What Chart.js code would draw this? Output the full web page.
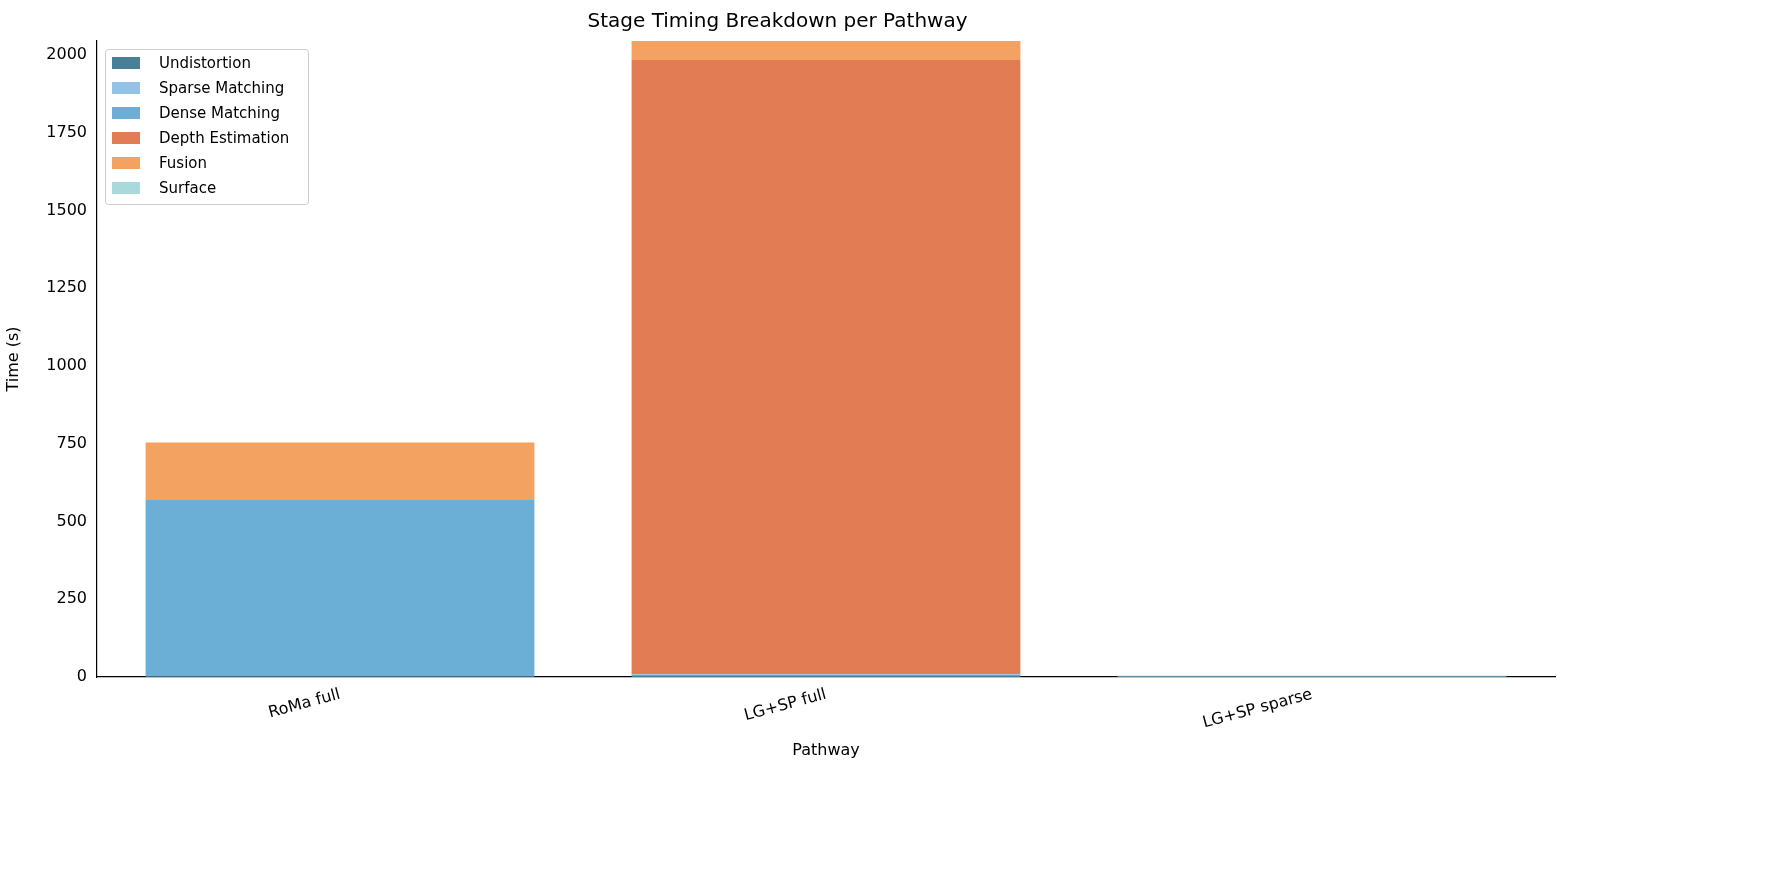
<!DOCTYPE html>
<html><head><meta charset="utf-8">
<script src="https://cdn.jsdelivr.net/npm/chart.js@4/dist/chart.umd.min.js"></script>
<style>html,body{margin:0;background:#fff}</style>
</head><body><canvas id="c" width="1784" height="882"></canvas>
<script>
const categories = ["RoMa full", "LG+SP full", "LG+SP sparse"];
const stages = ["Undistortion", "Sparse Matching", "Dense Matching", "Depth Estimation", "Fusion", "Surface"];
const undistortion = [2, 6, 1];
const sparseMatching = [0, 3, 3];
const denseMatching = [570, 0, 0];
const depthEstimation = [0, 1975, 0];
const fusion = [182, 200, 0];
const surface = [0, 0, 0];
const yTicks = [0, 250, 500, 750, 1000, 1250, 1500, 1750, 2000];
const colors = ["#4a7f99", "#93c4e8", "#6baed6", "#e17c55", "#f4a261", "#a8dadc"];
const series = [undistortion, sparseMatching, denseMatching, depthEstimation, fusion, surface];
const F = "'DejaVu Sans', sans-serif";
Chart.defaults.font.family = F;
Chart.defaults.color = "#000";

const legendPlugin = {
  id: "inLegend",
  afterDraw(chart) {
    const ctx = chart.ctx, a = chart.chartArea;
    const x0 = a.left + 8, y0 = a.top + 8, w = 203, h = 155;
    ctx.save();
    ctx.fillStyle = "rgba(255,255,255,0.8)";
    ctx.strokeStyle = "#ccc"; ctx.lineWidth = 1;
    ctx.beginPath(); ctx.roundRect(x0 + 0.5, y0 + 0.5, w, h, 3); ctx.fill(); ctx.stroke();
    ctx.font = "15px " + F; ctx.textBaseline = "middle";
    chart.data.datasets.forEach((d, i) => {
      const y = y0 + 14 + i * 25;
      ctx.fillStyle = d.backgroundColor; ctx.fillRect(x0 + 7, y - 6, 28, 12);
      ctx.fillStyle = "#000"; ctx.fillText(d.label, x0 + 54, y + 1);
    });
    ctx.restore();
  }
};

new Chart(document.getElementById("c"), {
  type: "bar",
  data: {
    labels: categories,
    datasets: stages.map((s, i) => ({ label: s, data: series[i], backgroundColor: colors[i],
      categoryPercentage: 0.8, barPercentage: 1.0, borderWidth: 0 }))
  },
  options: {
    responsive: false, animation: false, devicePixelRatio: 1,
    layout: { padding: { left: 0, right: 229, top: 0, bottom: 118 } },
    plugins: {
      legend: { display: false }, tooltip: { enabled: false },
      title: { display: true, text: "Stage Timing Breakdown per Pathway", font: { size: 20, weight: "normal" },
        padding: { top: 10, bottom: 7 }, color: "#000" }
    },
    scales: {
      x: { stacked: true, grid: { display: false, drawTicks: true, tickLength: 6 },
        border: { color: "#000", width: 1.2 },
        ticks: { maxRotation: 15, minRotation: 15, font: { size: 16 }, padding: 2 },
        title: { display: true, text: "Pathway", font: { size: 16 }, padding: { top: 6 } } },
      y: { stacked: true, min: 0, max: 2045,
        afterBuildTicks(ax) { ax.ticks = yTicks.map(v => ({ value: v })); },
        afterFit(ax) { ax.width = 97; },
        grid: { display: false, drawTicks: true, tickLength: 6 },
        border: { color: "#000", width: 1.2 },
        ticks: { font: { size: 16 }, padding: 4, callback: v => String(v) },
        title: { display: true, text: "Time (s)", font: { size: 16 }, padding: { bottom: 6 } } }
    }
  },
  plugins: [legendPlugin]
});
</script></body></html>
